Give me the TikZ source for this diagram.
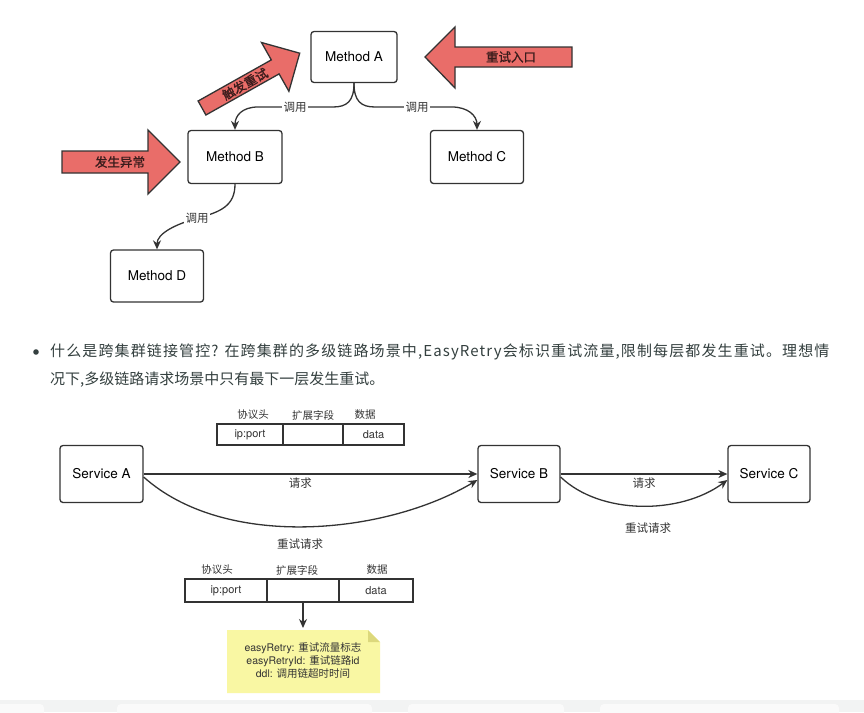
\documentclass[tikz,border=0pt]{standalone}
\usepackage{fontspec}
\setmainfont{TeX Gyre Heros}
\newfontfamily\cjk{Noto Sans CJK SC}
\newfontfamily\cjkb{Noto Sans CJK SC}[FakeBold=1.2]
\newfontfamily\cjksp{Noto Sans CJK SC}[LetterSpace=7.5]
\usetikzlibrary{arrows.meta}
\definecolor{linec}{HTML}{333333}
\definecolor{redf}{HTML}{E96D69}
\definecolor{redt}{HTML}{3A1C1C}
\definecolor{notey}{HTML}{F9F7A3}
\definecolor{notef}{HTML}{DCD87C}
\definecolor{bodyt}{HTML}{34403F}
\definecolor{bandc}{HTML}{F2F3F3}
\begin{document}
\begin{tikzpicture}[x=1pt,y=-1pt,
  mbox/.style={draw=linec, line width=1.3pt, rounded corners=3pt, fill=white, inner sep=0pt, font=\fontsize{13.5}{15}\selectfont},
  conn/.style={draw=linec, line width=1.3pt, -{Stealth[length=9pt,width=8pt]}},
  lab/.style={fill=white, inner sep=1.5pt, font=\cjk\fontsize{11.5}{13}\selectfont, text=linec},
  bigarrow/.style={draw=linec, line width=1.3pt, fill=redf, line join=miter},
  arrtxt/.style={font=\cjkb\fontsize{12.5}{14}\selectfont, text=redt, inner sep=0pt},
  cell/.style={draw=linec, line width=1.1pt, inner sep=0pt, font=\fontsize{11}{13}\selectfont, text=linec},
  hdr/.style={font=\cjk\fontsize{10.5}{12}\selectfont, text=linec},
  btxt/.style={font=\cjk\fontsize{15}{18}\selectfont, text=bodyt, anchor=west, inner sep=0pt},
  ntxt/.style={font=\fontsize{10.5}{13}\selectfont, text=linec, align=center}
]
\useasboundingbox (0,0) rectangle (864,712);
\fill[white] (0,0) rectangle (864,712);
% bottom faint band
\fill[bandc] (0,700) rectangle (864,712);
\fill[white!60!bandc, rounded corners=4pt] (-5,704) rectangle (44,716);
\fill[white!60!bandc, rounded corners=4pt] (117,704) rectangle (372,716);
\fill[white!60!bandc, rounded corners=4pt] (408,704) rectangle (564,716);
\fill[white!60!bandc, rounded corners=4pt] (600,704) rectangle (839,716);

% ---------- top diagram ----------
\node[mbox, minimum width=86pt, minimum height=51pt] (A) at (354,57) {Method A};
\node[mbox, minimum width=94pt, minimum height=53pt] (B) at (235,157) {Method B};
\node[mbox, minimum width=93pt, minimum height=53pt] (C) at (477,157) {Method C};
\node[mbox, minimum width=93pt, minimum height=52pt] (D) at (157,276) {Method D};

\coordinate (ab1) at (333,107);
\coordinate (ab2) at (258,107);
\coordinate (ac1) at (375,107);
\coordinate (ac2) at (452,107);
\draw[conn] (A.south) .. controls +(0,18) and +(14,0) .. (ab1) -- (ab2)
  .. controls +(-16,0) and +(0,-14) .. (B.north);
\node[lab] (l1) at (295,107) {调用};
\draw[conn] (A.south) .. controls +(0,18) and +(-14,0) .. (ac1) -- (ac2)
  .. controls +(16,0) and +(0,-14) .. (C.north);
\node[lab] (l2) at (417,107) {调用};
\coordinate (bd1) at (198,218);
\draw[conn] (B.south) .. controls +(0,22) and +(22,-6) .. (bd1)
  .. controls +(-22,6) and +(0,-16) .. (D.north);
\node[lab] (l3) at (197,218) {调用};

% red arrows
\draw[bigarrow] (572,47) -- (455,47) -- (455,27) -- (425,57) -- (455,88) -- (455,67) -- (572,67) -- cycle;
\node[arrtxt] (t1) at (511,57) {重试入口};
\draw[bigarrow] (62,151) -- (148,151) -- (148,130) -- (180,162) -- (148,194) -- (148,173) -- (62,173) -- cycle;
\node[arrtxt] (t2) at (120,162) {发生异常};
\draw[bigarrow] (198.1,101.0) -- (271.3,59.9) -- (261.5,42.5) -- (299.7,53.2) -- (288.9,91.3) -- (279.1,73.9) -- (205.9,115.0) -- cycle;
\node[arrtxt, rotate=29.3] (t3) at (245,84) {触发重试};

% ---------- bullet text ----------
\fill[bodyt] (36,352) circle (2.8pt);
\node[btxt, font=\cjksp\fontsize{15}{18}\selectfont] (p1) at (50,352) {什么是跨集群链接管控? 在跨集群的多级链路场景中,EasyRetry会标识重试流量,限制每层都发生重试。理想情};
\node[btxt] (p2) at (50,380) {况下,多级链路请求场景中只有最下一层发生重试。};

% ---------- bottom diagram ----------
\node[mbox, minimum width=83pt, minimum height=57pt] (SA) at (101.5,474) {Service A};
\node[mbox, minimum width=82pt, minimum height=57pt] (SB) at (519,474) {Service B};
\node[mbox, minimum width=82pt, minimum height=57pt] (SC) at (769,474) {Service C};

\draw[conn] (SA.east) -- node[pos=0.47, below=2pt, lab, fill=none] {请求} (SB.west);
\draw[conn] ([yshift=-3pt]SA.east) .. controls (225,550) and (385,535) .. ([yshift=-6pt]SB.west);
\node[lab, fill=none] (r1) at (300,544) {重试请求};
\draw[conn] (SB.east) -- node[pos=0.5, below=2pt, lab, fill=none] {请求} (SC.west);
\draw[conn] ([yshift=-3pt]SB.east) .. controls (600,515) and (680,515) .. ([yshift=-6pt]SC.west);
\node[lab, fill=none] (r2) at (648,528) {重试请求};

% upper packet
\node[cell, minimum width=66pt, minimum height=21pt] (u1) at (250,434.5) {ip:port};
\node[cell, minimum width=60pt, minimum height=21pt] (u2) at (313,434.5) {};
\node[cell, minimum width=61pt, minimum height=21pt] (u3) at (373.5,434.5) {data};
\node[hdr] (uh1) at (253,415) {协议头};
\node[hdr] (uh2) at (313,415) {扩展字段};
\node[hdr] (uh3) at (365,415) {数据};

% lower packet
\node[cell, minimum width=82pt, minimum height=23pt] (d1) at (226,590.5) {ip:port};
\node[cell, minimum width=72pt, minimum height=23pt] (d2) at (303,590.5) {};
\node[cell, minimum width=74pt, minimum height=23pt] (d3) at (376,590.5) {data};
\node[hdr] (dh1) at (217,570) {协议头};
\node[hdr] (dh2) at (297,570) {扩展字段};
\node[hdr] (dh3) at (377,570) {数据};

% note
\fill[notey] (227,630) -- (368,630) -- (380,642) -- (380,693) -- (227,693) -- cycle;
\fill[notef] (368,630) -- (368,642) -- (380,642) -- cycle;
\coordinate (notetop) at (303,628);
\node[ntxt] (n) at (303,661) {easyRetry: {\cjk 重试流量标志}\\easyRetryId: {\cjk 重试链路}id\\ddl: {\cjk 调用链超时时间}};
\draw[conn] (d2.south) -- (notetop);
\end{tikzpicture}
\end{document}
